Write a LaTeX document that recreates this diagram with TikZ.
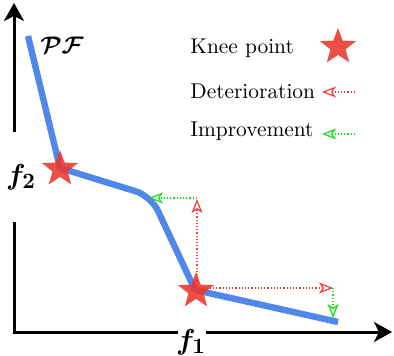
\documentclass[tikz,border=0pt]{standalone}
\usepackage{amsmath,bm}
\usetikzlibrary{arrows.meta,shapes.geometric}
\definecolor{pfblue}{RGB}{80,135,235}
\definecolor{kneered}{RGB}{235,55,45}
\definecolor{detred}{RGB}{240,60,60}
\definecolor{impgreen}{RGB}{20,225,20}
\tikzset{
  axis/.style={line width=1.5pt,line join=miter},
  axtip/.style={-{Stealth[length=9pt,width=10pt,inset=2.5pt]}},
  front/.style={line width=3.2pt,color=pfblue,line join=round},
  knee/.style={star,star points=5,star point ratio=2.4,minimum size=19pt,inner sep=0pt,fill=kneered,fill opacity=0.88,draw=none},
  det/.style={detred,densely dotted,line width=0.6pt,-{Stealth[open,length=7pt,width=5.5pt,inset=1.8pt]}},
  imp/.style={impgreen,densely dotted,line width=0.6pt,-{Stealth[open,length=7pt,width=5.5pt,inset=1.8pt]}},
  legtext/.style={anchor=west,inner sep=0pt,font=\fontsize{10.7}{13}\selectfont},
}
\begin{document}
\begin{tikzpicture}[x=0.5pt,y=-0.5pt]
\useasboundingbox (0,0) rectangle (394,356);
% axes
\coordinate (O) at (14,332);
\coordinate (ytop) at (14,3);
\coordinate (ybreakA) at (14,222);
\coordinate (ybreakB) at (14,132);
\coordinate (xbreakA) at (178,332);
\coordinate (xbreakB) at (206,332);
\coordinate (xend) at (392,332);
\draw[axis] (ybreakA) -- (O) -- (xbreakA);
\draw[axis,axtip] (ybreakB) -- (ytop);
\draw[axis,axtip] (xbreakB) -- (xend);
\node (f2) at (21,177) {\fontsize{15}{17}\selectfont$\boldsymbol{f_2}$};
\node (f1) at (191,342) {\fontsize{15}{17}\selectfont$\boldsymbol{f_1}$};
% front
\coordinate (p0) at (28,36);
\coordinate (k1) at (60,168);
\coordinate (c1) at (151,196);
\coordinate (k2) at (195,290);
\coordinate (p4) at (338,322);
\draw[front] (p0) -- (k1) [rounded corners=8pt] -- (c1) [sharp corners] -- (k2) -- (p4);
\node (pf) at (62,45) {\fontsize{11.5}{14}\selectfont$\boldsymbol{\mathcal{PF}}$};
% moves
\coordinate (up) at (197,199);
\coordinate (left) at (149,198);
\coordinate (right) at (333,288);
\coordinate (down) at (333,318);
\draw[det] (197,288) -- (up);
\draw[imp] (197,198) -- (left);
\draw[det] (197,288) -- (right);
\draw[imp] (333,288) -- (down);
\node[knee] (s1) at (60,169) {};
\node[knee] (s2) at (196,291) {};
% legend
\node[legtext] (l1) at (190,48) {Knee point};
\node[legtext] (l2) at (190,91) {Deterioration};
\node[legtext] (l3) at (190,131) {Improvement};
\node[knee] (ls) at (338,47) {};
\coordinate (da) at (355,92);
\coordinate (db) at (322,92);
\coordinate (ia) at (355,134);
\coordinate (ib) at (322,134);
\draw[det] (da) -- (db);
\draw[imp] (ia) -- (ib);
\end{tikzpicture}
\end{document}
